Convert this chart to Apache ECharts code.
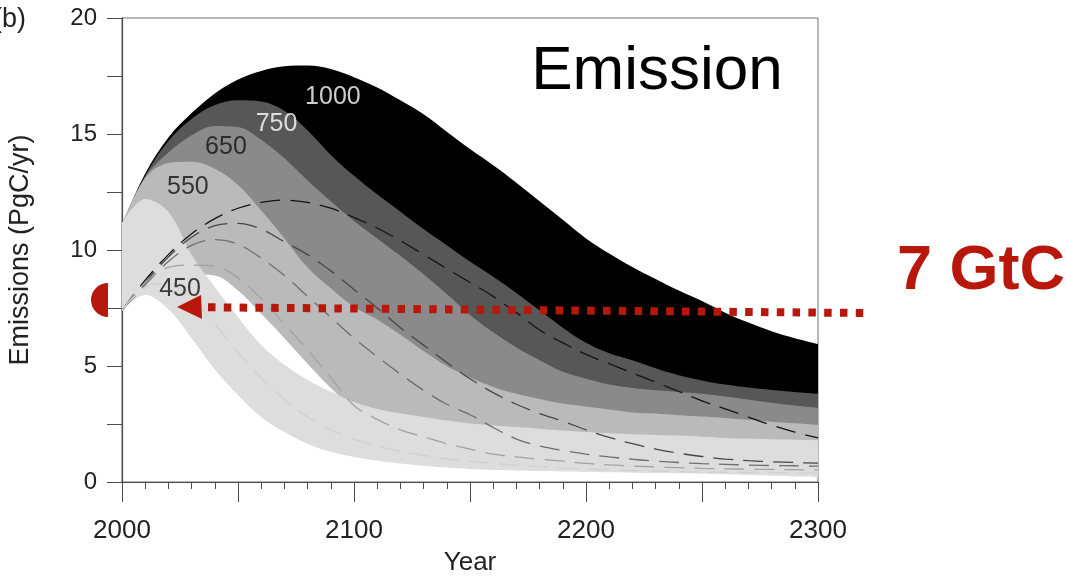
<!DOCTYPE html>
<html>
<head>
<meta charset="utf-8">
<script src="https://cdn.jsdelivr.net/npm/echarts@6/dist/echarts.min.js"></script>
<style>
  html, body { margin: 0; padding: 0; background: #fff; }
  #chart { width: 1066px; height: 576px; }
</style>
</head>
<body>
<div id="chart"></div>
<script>
// Years on the horizontal axis (one point per decade)
const years = ['2000','2010','2020','2030','2040','2050','2060','2070','2080','2090',
  '2100','2110','2120','2130','2140','2150','2160','2170','2180','2190',
  '2200','2210','2220','2230','2240','2250','2260','2270','2280','2290','2300'];

// Upper edges of the emission ranges for each stabilisation level (PgC/yr)
const up1000 = [11.1, 13.3, 14.85, 15.9, 16.75, 17.35, 17.72, 17.92, 17.95, 17.8,
  17.45, 17.0, 16.45, 15.85, 15.1, 14.35, 13.65, 12.9, 12.1, 11.3,
  10.5, 9.85, 9.27, 8.75, 8.25, 7.8, 7.3, 6.87, 6.5, 6.2, 5.95];
const up750 = [11.1, 13.2, 14.7, 15.65, 16.25, 16.45, 16.4, 16.0, 15.15, 14.1,
  13.2, 12.4, 11.65, 10.9, 10.2, 9.5, 8.85, 8.15, 7.4, 6.65,
  6.0, 5.55, 5.25, 4.9, 4.6, 4.38, 4.2, 4.07, 3.97, 3.88, 3.8];
const up650 = [11.1, 13.15, 14.2, 14.95, 15.35, 15.3, 14.75, 13.95, 13.0, 12.1,
  11.25, 10.5, 9.75, 8.95, 8.1, 7.2, 6.45, 5.8, 5.25, 4.75,
  4.45, 4.2, 4.05, 3.95, 3.88, 3.8, 3.68, 3.55, 3.42, 3.3, 3.2];
const up550 = [11.1, 13.1, 13.75, 13.8, 13.5, 12.8, 11.7, 10.5, 9.25, 8.35,
  7.55, 7.0, 6.35, 5.65, 5.0, 4.5, 4.1, 3.8, 3.58, 3.38,
  3.25, 3.12, 3.0, 2.95, 2.88, 2.82, 2.76, 2.68, 2.6, 2.53, 2.46];
const up450 = [11.16, 12.2, 11.65, 9.8, 8.4, 7.1, 5.9, 5.05, 4.4, 3.9,
  3.45, 3.15, 2.96, 2.8, 2.65, 2.52, 2.44, 2.37, 2.3, 2.22,
  2.15, 2.1, 2.06, 2.03, 2.0, 1.95, 1.9, 1.87, 1.84, 1.82, 1.8];

// Lower edges of the emission ranges
const lowHigh = [7.6, 9.0, 9.5, 9.8, 9.8, 9.5, 8.8, 8.0, 7.0, 6.0,
  5.0, 4.5, 4.2, 4.0, 3.6, 3.3, 3.0, 2.8, 2.6, 2.5,
  2.4, 2.3, 2.2, 2.15, 2.1, 2.05, 2.0, 1.95, 1.9, 1.85, 1.8];
const low550 = [7.45, 8.3, 8.6, 8.95, 8.9, 8.25, 7.25, 6.2, 5.1, 4.05,
  3.2, 2.8, 2.5, 2.25, 2.05, 1.9, 1.8, 1.7, 1.62, 1.55,
  1.5, 1.45, 1.4, 1.37, 1.34, 1.3, 1.27, 1.25, 1.23, 1.21, 1.2];
const low450 = [7.41, 8.06, 7.45, 6.2, 4.85, 3.75, 2.8, 2.15, 1.65, 1.3,
  1.08, 0.92, 0.8, 0.7, 0.62, 0.56, 0.52, 0.5, 0.47, 0.45,
  0.43, 0.42, 0.4, 0.39, 0.38, 0.36, 0.33, 0.3, 0.27, 0.24, 0.22];

// Central emission pathways (dashed)
const mid1000 = [7.4, 8.7, 9.8, 10.7, 11.35, 11.8, 12.05, 12.15, 12.05, 11.8,
  11.4, 10.95, 10.4, 9.8, 9.2, 8.6, 8.0, 7.3, 6.55, 6.0,
  5.5, 5.1, 4.7, 4.3, 3.9, 3.5, 3.15, 2.8, 2.45, 2.15, 1.9];
const mid750 = [7.4, 8.6, 9.7, 10.55, 11.05, 11.15, 10.9, 10.35, 9.8, 9.1,
  8.3, 7.5, 6.65, 5.9, 5.15, 4.45, 3.85, 3.35, 2.95, 2.62,
  2.25, 1.92, 1.65, 1.42, 1.24, 1.1, 0.99, 0.92, 0.87, 0.84, 0.81];
const mid650 = [7.4, 8.5, 9.5, 10.2, 10.45, 10.25, 9.65, 8.9, 8.0, 7.1,
  6.2, 5.4, 4.65, 3.95, 3.35, 2.9, 2.35, 1.85, 1.55, 1.36,
  1.2, 1.08, 0.98, 0.9, 0.84, 0.79, 0.76, 0.73, 0.71, 0.7, 0.68];
const mid550 = [7.4, 8.6, 9.25, 9.35, 9.3, 8.8, 7.9, 6.8, 5.7, 4.5,
  3.3, 2.7, 2.25, 1.95, 1.65, 1.42, 1.2, 1.08, 0.98, 0.9,
  0.8, 0.74, 0.69, 0.65, 0.62, 0.59, 0.57, 0.55, 0.54, 0.53, 0.52];
const mid450 = [7.4, 8.4, 8.55, 7.9, 6.8, 5.6, 4.5, 3.55, 2.8, 2.25,
  1.85, 1.55, 1.32, 1.15, 1.0, 0.9, 0.8, 0.72, 0.66, 0.6,
  0.56, 0.52, 0.49, 0.47, 0.45, 0.43, 0.42, 0.41, 0.4, 0.39, 0.38];

// Level labels placed inside the bands: [text, year, value, colour]
const levelLabels = [
  ['1000', 2090.9, 16.57, '#ffffff'],
  ['750', 2066.6, 15.43, '#ffffff'],
  ['650', 2044.8, 14.42, '#111111'],
  ['550', 2028.4, 12.72, '#111111'],
  ['450', 2025.0, 8.30, '#111111']
];

const yTicks = [0, 5, 10, 15, 20];

const FONT = '"Liberation Sans", Arial, Helvetica, sans-serif';
const SMOOTH = 0.35;
const RED = '#b8170b';
const AXIS = '#4a4a4a';

const bands = [
  ['1000', lowHigh, up1000, '#000000'],
  ['750', lowHigh, up750, '#575757'],
  ['650', lowHigh, up650, '#8a8a8a'],
  ['550', low550, up550, '#bababa'],
  ['450', low450, up450, '#dddddd']
];
const pathways = [
  [mid1000, '#141414'],
  [mid750, '#474747'],
  [mid650, '#6e6e6e'],
  [mid550, '#a3a3a3'],
  [mid450, '#d0d0d0']
];

const series = [];
bands.forEach(([name, lower, upper, color]) => {
  series.push({
    type: 'line', stack: 'band' + name, data: lower, smooth: SMOOTH,
    symbol: 'none', silent: true, lineStyle: { width: 0, opacity: 0 }
  });
  series.push({
    type: 'line', stack: 'band' + name, name: name,
    data: upper.map((v, i) => +(v - lower[i]).toFixed(3)),
    smooth: SMOOTH, symbol: 'none', silent: true,
    lineStyle: { width: 0, opacity: 0 },
    areaStyle: { color: color, opacity: 1 }
  });
});
pathways.forEach(([vals, color]) => {
  series.push({
    type: 'line', data: vals, smooth: SMOOTH, symbol: 'none', silent: true,
    lineStyle: { color: color, width: 1.3, type: [20, 10] }
  });
});
series.push({
  type: 'scatter', xAxisIndex: 2, yAxisIndex: 0, symbolSize: 0, silent: true, z: 10,
  data: levelLabels.map(([t, x, y, c]) => ({
    name: t, value: [x, y],
    label: { show: true, position: 'inside', formatter: t, color: c,
             fontSize: 25, fontFamily: FONT }
  }))
});

const chart = echarts.init(document.getElementById('chart'), null, { renderer: 'canvas' });
chart.setOption({
  animation: false,
  backgroundColor: '#ffffff',
  grid: { left: 122, right: 248, top: 18, bottom: 94, show: true,
          outerBoundsMode: 'none', containLabel: false,
          borderColor: '#707070', borderWidth: 1, backgroundColor: 'transparent' },
  xAxis: [
    {
      type: 'category', data: years, boundaryGap: false,
      name: 'Year', nameLocation: 'middle', nameGap: 68,
      nameTextStyle: { fontSize: 26, fontFamily: FONT, color: '#222' },
      axisLine: { show: true, lineStyle: { color: AXIS, width: 1.2 } },
      axisTick: { show: true, interval: 0, length: 7, lineStyle: { color: AXIS } },
      axisLabel: { interval: (i) => i % 10 === 0, fontSize: 26, margin: 36,
                   fontFamily: FONT, color: '#222' },
      splitLine: { show: false }
    },
    {
      type: 'category', data: years, boundaryGap: false, position: 'bottom',
      axisLine: { show: false },
      axisTick: { show: true, interval: (i) => i % 5 === 0, length: 20,
                  lineStyle: { color: AXIS } },
      axisLabel: { show: false }, splitLine: { show: false }
    },
    { type: 'value', min: 2000, max: 2300, show: false }
  ],
  yAxis: {
    type: 'value', min: yTicks[0], max: yTicks[yTicks.length - 1], interval: 5,
    name: 'Emissions (PgC/yr)', nameLocation: 'middle', nameGap: 88,
    nameTextStyle: { fontSize: 27, fontFamily: FONT, color: '#222' },
    axisLine: { show: true, lineStyle: { color: AXIS, width: 1.2 } },
    axisTick: { show: true, length: 15, lineStyle: { color: AXIS } },
    minorTick: { show: true, splitNumber: 2, length: 15, lineStyle: { color: AXIS } },
    axisLabel: { fontSize: 24, margin: 25, fontFamily: FONT, color: '#222' },
    splitLine: { show: false }
  },
  series: series,
  graphic: [
    { type: 'text', left: -7, top: 6, style: { text: '(b)', fontSize: 27,
      fontFamily: FONT, fill: '#222' } },
    { type: 'text', x: 657, y: 72, style: { text: 'Emission', fontSize: 62,
      fontFamily: FONT, fill: '#000', align: 'center', verticalAlign: 'middle' }, z: 20 },
    { type: 'sector', shape: { cx: 108, cy: 300, r: 17, startAngle: Math.PI / 2,
      endAngle: Math.PI * 1.5 }, style: { fill: RED }, z: 20 },
    { type: 'line', shape: { x1: 208, y1: 307.3, x2: 866, y2: 313 },
      style: { stroke: RED, lineWidth: 8, lineDash: [7.5, 8.3], lineCap: 'butt' }, z: 20 },
    { type: 'polygon', shape: { points: [[177, 307], [201, 295], [202, 319]] },
      style: { fill: RED }, z: 20 },
    { type: 'text', x: 897, y: 272, style: { text: '7 GtC', fontSize: 63,
      fontWeight: 'bold', fontFamily: FONT, fill: RED, align: 'left',
      verticalAlign: 'middle' }, z: 20 }
  ]
});
</script>
</body>
</html>
